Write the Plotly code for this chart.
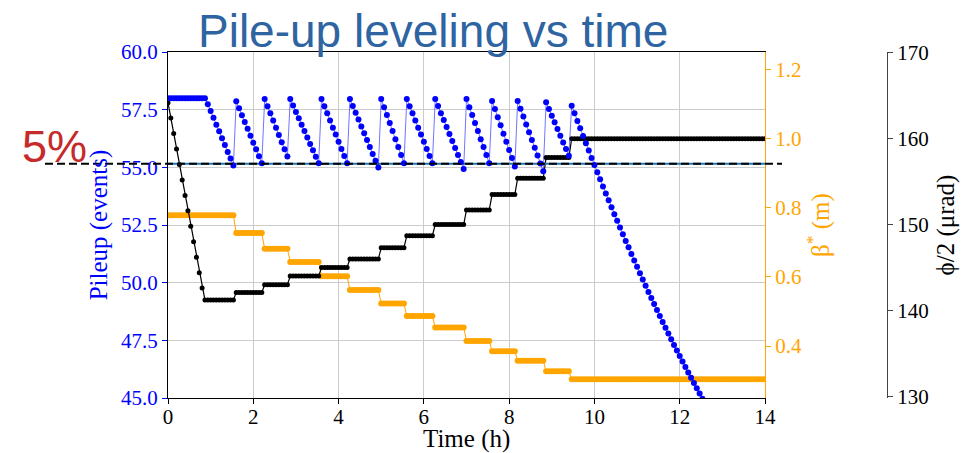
import plotly.graph_objects as go

# ---------------- data ----------------
SAMPLE_MIN = 4                      # minutes between samples
N_SAMPLES = 211                     # 0 .. 14 h
time_h = [k * SAMPLE_MIN / 60 for k in range(N_SAMPLES)]

# Pile-up (events), one value per sample
pileup = [
    58.0, 58.0, 58.0, 58.0, 58.0, 58.0, 58.0, 58.0, 58.0, 58.0, 58.0, 58.0, 58.0, 58.0,
    57.74, 57.44, 57.15, 56.85, 56.56, 56.26, 55.97, 55.67, 55.38, 55.08,
    57.86, 57.56, 57.26, 56.97, 56.67, 56.37, 56.07, 55.78, 55.48, 55.18,
    57.96, 57.65, 57.34, 57.03, 56.72, 56.40, 56.09, 55.78, 55.47,
    57.96, 57.68, 57.40, 57.13, 56.85, 56.57, 56.29, 56.01, 55.74, 55.46, 55.18,
    57.96, 57.65, 57.34, 57.03, 56.72, 56.42, 56.11, 55.80, 55.49, 55.18,
    57.96, 57.66, 57.37, 57.07, 56.77, 56.48, 56.18, 55.88, 55.58, 55.29, 54.99,
    57.96, 57.61, 57.27, 56.92, 56.57, 56.22, 55.88, 55.53, 55.18,
    57.96, 57.65, 57.34, 57.03, 56.72, 56.42, 56.11, 55.80, 55.49, 55.18,
    57.96, 57.66, 57.35, 57.05, 56.75, 56.45, 56.14, 55.84, 55.54, 55.23, 54.93,
    57.96, 57.61, 57.27, 56.92, 56.57, 56.22, 55.88, 55.53, 55.18,
    57.88, 57.53, 57.17, 56.82, 56.46, 56.11, 55.75, 55.40, 55.04,
    57.88, 57.54, 57.20, 56.86, 56.52, 56.19, 55.85, 55.51, 55.17, 54.83,
    57.82, 57.53, 57.24, 56.95, 56.66, 56.37, 56.08, 55.79, 55.50,
    57.67, 57.34, 57.01, 56.69, 56.36, 56.04, 55.73, 55.41, 55.10, 54.79,
    54.48, 54.17, 53.87, 53.57, 53.27, 52.97, 52.68, 52.39, 52.10, 51.81,
    51.53, 51.24, 50.96, 50.69, 50.41, 50.14, 49.87, 49.60, 49.34, 49.07,
    48.81, 48.56, 48.30, 48.05, 47.80, 47.55, 47.30, 47.06, 46.82, 46.58,
    46.34, 46.11, 45.88, 45.65, 45.42, 45.20, 44.97, 44.75,
]

# Crossing angle phi/2 (urad): initial ramp-down samples, then step levels
phi_ramp = [164.2, 162.4, 160.6, 158.8, 157.0, 155.2, 153.4, 151.6, 149.8,
            148.0, 146.2, 144.4, 142.6]
step_start = [13, 24, 34, 43, 54, 64, 75, 84, 94, 105, 114, 123, 133, 142]
phi_levels = [141.2, 142.1, 143.0, 144.0, 145.0, 146.0, 147.3, 148.7, 150.0,
              151.7, 153.5, 155.4, 157.8, 160.0]

# beta* (m) step levels
beta_start = [0, 24, 34, 43, 54, 64, 75, 84, 94, 105, 114, 123, 133, 142]
beta_levels = [0.778, 0.727, 0.681, 0.643, 0.602, 0.562, 0.523, 0.487, 0.454,
               0.415, 0.385, 0.358, 0.327, 0.304]

threshold = 55.15   # 5 % below the levelled pile-up

x_ticks = [0, 2, 4, 6, 8, 10, 12, 14]
pu_ticks = [45.0, 47.5, 50.0, 52.5, 55.0, 57.5, 60.0]
beta_ticks = [0.4, 0.6, 0.8, 1.0, 1.2]
phi_ticks = [130, 140, 150, 160, 170]


def expand(starts, levels, n):
    out = []
    for i, (s, v) in enumerate(zip(starts, levels)):
        e = starts[i + 1] if i + 1 < len(starts) else n
        out += [v] * (e - s)
    return out


phi = phi_ramp + expand(step_start, phi_levels, N_SAMPLES)
beta = expand(beta_start, beta_levels, N_SAMPLES)

# ---------------- figure ----------------
SERIF = "Liberation Serif"
SANS = "Liberation Sans"
BLUE = "#0000FF"
ORANGE = "#FFA500"

OFF = 8                       # default page (body) margin
W, H = 969 - OFF, 453 - OFF
ML, MR, MT, MB = 168 - OFF, 40, 52 - OFF, H - (398 - OFF)
pw = W - ML - MR
ph = H - MT - MB


def px(xp):   # page x pixel -> paper fraction
    return (xp - OFF - ML) / pw


def py(yp):   # page y pixel -> paper fraction
    return (H - MB - (yp - OFF)) / ph


x_end = px(765)
phi_pos = px(887)

fig = go.Figure()

fig.add_trace(go.Scatter(
    x=time_h, y=beta, yaxis="y", mode="lines+markers",
    line=dict(color=ORANGE, width=1), marker=dict(color=ORANGE, size=6),
    showlegend=False, hoverinfo="skip"))

fig.add_trace(go.Scatter(
    x=time_h, y=phi, yaxis="y2", mode="lines+markers",
    line=dict(color="black", width=1.2), marker=dict(color="black", size=5),
    showlegend=False, hoverinfo="skip"))

fig.add_trace(go.Scatter(
    x=[x_ticks[0], x_ticks[-1]], y=[threshold, threshold], yaxis="y3",
    mode="lines", line=dict(color="#1f77b4", width=2),
    showlegend=False, hoverinfo="skip"))

fig.add_trace(go.Scatter(
    x=time_h[:len(pileup)], y=pileup, yaxis="y3", mode="lines+markers",
    line=dict(color="rgba(0,0,255,0.55)", width=1),
    marker=dict(color=BLUE, size=6),
    showlegend=False, hoverinfo="skip"))

tick_font = dict(family=SERIF, size=21)
title_font_size = 25
thr_paper = (threshold - pu_ticks[0]) / (pu_ticks[-1] - pu_ticks[0])

fig.update_layout(
    width=W, height=H,
    margin=dict(l=ML, r=MR, t=MT, b=MB, autoexpand=False),
    paper_bgcolor="white", plot_bgcolor="white",
    xaxis=dict(
        domain=[0, x_end], range=[0, 14], tickvals=x_ticks, automargin=False,
        showgrid=True, gridcolor="#cccccc", gridwidth=1, zeroline=False,
        showline=True, linecolor="black", linewidth=1, mirror=True,
        ticks="outside", ticklen=5, tickcolor="black", ticklabelstandoff=-5,
        tickfont=dict(tick_font, color="black"),
    ),
    yaxis=dict(
        range=[0.25, 1.25], side="right", tickvals=beta_ticks, tickformat=".1f",
        automargin=False, showgrid=False, zeroline=False,
        showline=True, linecolor=ORANGE, linewidth=1,
        ticks="outside", ticklen=5, tickcolor=ORANGE,
        tickfont=dict(tick_font, color=ORANGE),
        title=dict(text="β<sup>*</sup> (m)", font=dict(family=SERIF, size=title_font_size, color=ORANGE),
                   standoff=10),
    ),
    yaxis2=dict(
        range=[129.8, 170.1], overlaying="y", anchor="free", position=phi_pos,
        side="right", tickvals=phi_ticks, automargin=False,
        showgrid=False, zeroline=False,
        showline=True, linecolor="#444444", linewidth=1,
        ticks="outside", ticklen=5, tickcolor="#444444",
        tickfont=dict(tick_font, color="black"),
        title=dict(text="ϕ/2 (μrad)", font=dict(family=SERIF, size=title_font_size, color="black"),
                   standoff=8),
    ),
    yaxis3=dict(
        range=[45, 60], overlaying="y", side="left", anchor="x",
        tickvals=pu_ticks, tickformat=".1f", automargin=False,
        showgrid=True, gridcolor="#cccccc", gridwidth=1, zeroline=False,
        showline=True, linecolor="black", linewidth=1,
        ticks="outside", ticklen=5, tickcolor=BLUE,
        tickfont=dict(tick_font, color=BLUE),
        title=dict(text="Pileup (events)", font=dict(family=SERIF, size=title_font_size, color=BLUE),
                   standoff=6),
    ),
    shapes=[dict(
        type="line", xref="paper", yref="paper",
        x0=px(45), x1=px(782), y0=thr_paper, y1=thr_paper,
        line=dict(color="black", width=2, dash="8px,4px"), layer="above")],
    annotations=[
        dict(text="Pile-up leveling vs time", xref="paper", yref="paper",
             x=px(433), y=py(31), xanchor="center", yanchor="middle",
             showarrow=False, font=dict(family=SANS, size=46, color="#2F64A2")),
        dict(text="5%", xref="paper", yref="paper",
             x=px(54), y=py(146), xanchor="center", yanchor="middle",
             showarrow=False, font=dict(family=SANS, size=45, color="#C62A2A")),
        dict(text="Time (h)", xref="paper", yref="paper",
             x=px(466), y=py(439), xanchor="center", yanchor="middle",
             showarrow=False, font=dict(family=SERIF, size=title_font_size, color="black")),
    ],
)

fig.write_html("out.html")
